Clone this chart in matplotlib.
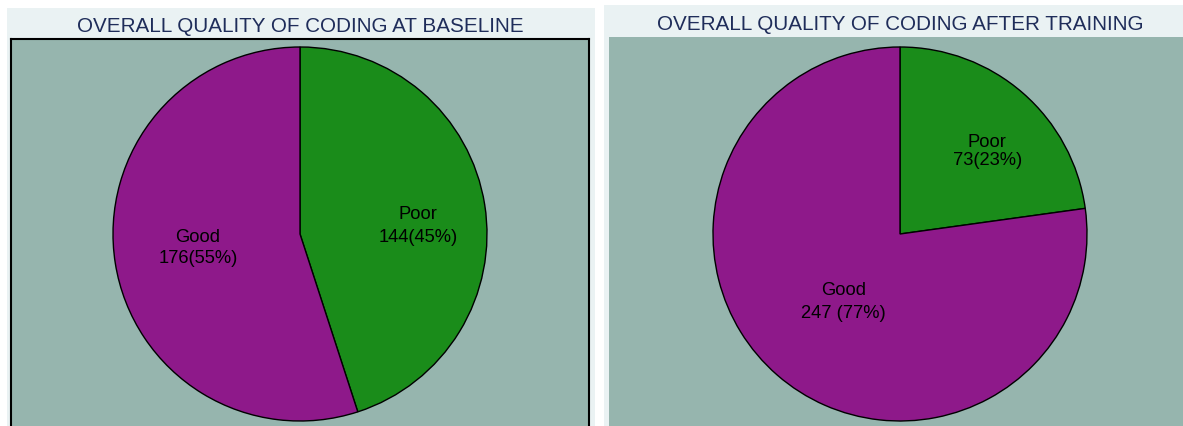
import numpy as np
import matplotlib
matplotlib.use("Agg")
import matplotlib.pyplot as plt
from matplotlib.patches import Rectangle

plt.rcParams['font.family'] = ['Liberation Sans', 'DejaVu Sans']

TITLES = [
    "OVERALL QUALITY OF CODING AT BASELINE",
    "OVERALL QUALITY OF CODING AFTER TRAINING",
]
CATEGORIES = ["Poor", "Good"]
BASELINE = [144, 176]
AFTER = [73, 247]
BASELINE_LABELS = ["144(45%)", "176(55%)"]
AFTER_LABELS = ["73(23%)", "247 (77%)"]

PURPLE = "#8e198a"
GREEN = "#1a8c1a"
PLOT_BG = "#96b5ae"
PANEL_BG = "#eaf2f3"
TITLE_COLOR = "#1f2d5a"

W, H = 1183, 427
fig = plt.figure(figsize=(W / 100, H / 100), dpi=100)


def px_box(x0, y0, x1, y1):
    # pixel box (top-left origin) -> figure fraction [l, b, w, h]
    return [x0 / W, 1 - y1 / H, (x1 - x0) / W, (y1 - y0) / H]


def draw_panel(panel, plot, center, radius, title, title_y, values,
               labels, label_r, label_rot, spacing, border):
    # panel background
    fig.patches.append(Rectangle((panel[0] / W, 0), (panel[2] - panel[0]) / W,
                                 1 - panel[1] / H, transform=fig.transFigure,
                                 facecolor=PANEL_BG, edgecolor="none", zorder=-5))
    fig.text(center[0] / W, 1 - title_y / H, title, ha="center", va="center",
             fontsize=14.9, color=TITLE_COLOR)

    ax = fig.add_axes(px_box(*plot))
    ax.set_zorder(2)

    wedges, _ = ax.pie(values, colors=[GREEN, PURPLE], startangle=90,
                       counterclock=False, radius=1.0,
                       wedgeprops=dict(edgecolor="black", linewidth=1.0))
    ax.set_frame_on(True)
    ax.set_facecolor(PLOT_BG)
    ax.patch.set_visible(True)
    for s in ax.spines.values():
        s.set_visible(border)
        s.set_linewidth(1.5)
    ax.set_aspect("auto")
    ax.set_xlim((plot[0] - center[0]) / radius, (plot[2] - center[0]) / radius)
    ax.set_ylim((center[1] - plot[3]) / radius, (center[1] - plot[1]) / radius)
    ax.set_xticks([])
    ax.set_yticks([])

    for w, cat, lab, r, rot, sp in zip(wedges, CATEGORIES, labels, label_r,
                                        label_rot, spacing):
        ang = np.deg2rad((w.theta1 + w.theta2) / 2 + rot)
        ax.text(r * np.cos(ang), r * np.sin(ang), f"{cat}\n{lab}",
                ha="center", va="center", fontsize=13.2,
                linespacing=sp, color="black")


draw_panel((7, 9, 595), (11, 40, 589, 445), (300, 235), 187, TITLES[0], 27,
           BASELINE, BASELINE_LABELS, [0.633, 0.55], [-4.6, -1.7],
           [1.45, 1.25], True)
draw_panel((604, 6, 1183), (609, 38, 1195, 445), (900, 235), 187, TITLES[1], 24,
           AFTER, AFTER_LABELS, [0.646, 0.47], [-5.3, 1.0],
           [1.1, 1.45], False)

fig.savefig("out.png", dpi=100)
